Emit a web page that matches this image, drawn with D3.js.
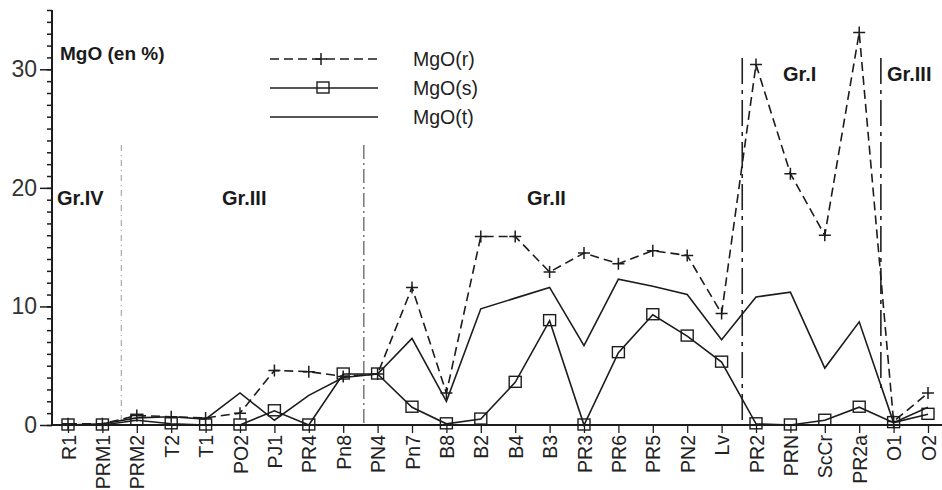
<!DOCTYPE html>
<html>
<head>
<meta charset="utf-8">
<script src="https://cdn.jsdelivr.net/npm/d3@7"></script>
<style>
  body { margin: 0; background: #fff; }
  svg { display: block; font-family: "Liberation Sans", Arial, sans-serif; }
  .grp { font-weight: bold; font-size: 20px; fill: #1a1a1a; }
</style>
</head>
<body>
<div id="chart"></div>
<script>
// samples along the x axis
const samples = ["R1","PRM1","PRM2","T2","T1","PO2","PJ1","PR4","Pn8","PN4","Pn7","B8","B2","B4","B3",
  "PR3","PR6","PR5","PN2","Lv","PR2","PRN","ScCr","PR2a","O1","O2"];

// MgO values (%)
const mgoR = [0.1,0.1,0.8,0.7,0.6,1.0,4.6,4.5,4.1,4.3,11.6,2.7,15.9,15.9,12.9,14.5,13.6,14.7,14.3,9.4,30.4,21.2,16.0,33.1,0.3,2.7];
const mgoS = [0,0,0.4,0.1,0,0,1.2,0,4.3,4.3,1.5,0.1,0.5,3.6,8.8,0,6.1,9.3,7.5,5.3,0.1,0,0.4,1.5,0.2,0.9];
const mgoT = [0,0.1,0.6,0.7,0.5,2.7,0.4,2.5,4.0,4.3,7.3,2.0,9.8,10.7,11.6,6.7,12.3,11.7,11.0,7.2,10.8,11.2,4.8,8.7,0.2,1.5];

const majorTicks = [0,10,20,30];
const minorTicks = d3.range(0, 36, 1);

// group separators: placed after sample, at fraction of a step
const separators = [
  {after: "PRM1", frac: 0.55, kind: "dot"},
  {after: "Pn8", frac: 0.6, kind: "dashdot"},
  {after: "Lv", frac: 0.6, kind: "long"},
  {after: "PR2a", frac: 0.63, kind: "long"}
];
const groups = ["Gr.IV","Gr.III","Gr.II","Gr.I","Gr.III"];
const seriesNames = ["MgO(r)","MgO(s)","MgO(t)"];

const width = 942, height = 490;
const svg = d3.select("#chart").append("svg").attr("width", width).attr("height", height);

const x = d3.scalePoint().domain(samples).range([68, 928]);
const y = d3.scaleLinear().domain([0, 35]).range([425, 10]);
const step = x.step();
const ink = "#1c1c1c";

// y axis: minor + major ticks
svg.append("g").attr("transform", "translate(52,0)")
  .call(d3.axisLeft(y).tickValues(minorTicks).tickSize(5).tickFormat(""))
  .call(g => g.select(".domain").remove())
  .selectAll("line").attr("stroke", ink).attr("stroke-width", 1.5);
const yMaj = svg.append("g").attr("transform", "translate(52,0)")
  .call(d3.axisLeft(y).tickValues(majorTicks).tickSize(12).tickPadding(3).tickFormat(d3.format("d")));
yMaj.select(".domain").remove();
yMaj.selectAll("line").attr("stroke", ink).attr("stroke-width", 1.5);
yMaj.selectAll("text").attr("font-size", 23).attr("fill", "#333").attr("font-family", "Liberation Sans, Arial");
svg.append("line").attr("x1", 52).attr("x2", 52).attr("y1", y(35)).attr("y2", y(0))
  .attr("stroke", ink).attr("stroke-width", 2);

// x axis
const xAx = svg.append("g").attr("transform", `translate(0,${y(0)})`)
  .call(d3.axisBottom(x).tickSize(8).tickSizeOuter(0));
xAx.select(".domain").remove();
xAx.selectAll("line").attr("stroke", ink).attr("stroke-width", 1.3);
xAx.selectAll("text")
  .attr("font-size", 19.5).attr("fill", "#222").attr("font-family", "Liberation Sans, Arial")
  .attr("transform", "rotate(-90)")
  .attr("text-anchor", "end")
  .attr("x", -10).attr("y", 0).attr("dy", "0.36em");
svg.append("line").attr("x1", 52).attr("x2", width).attr("y1", y(0)).attr("y2", y(0))
  .attr("stroke", ink).attr("stroke-width", 2.2);

// separators
const sepStyle = {
  dot: {top: 145, dash: "6,4,1,4", color: "#aaa", w: 1.2},
  dashdot: {top: 145, dash: "14,4,2,4", color: "#555", w: 1.2},
  long: {top: 58, dash: "26,6,4,6", color: "#222", w: 1.6}
};
separators.forEach((s, i) => {
  const st = sepStyle[s.kind];
  const sx = x(s.after) + s.frac * step;
  svg.append("line").attr("x1", sx).attr("x2", sx)
    .attr("y1", st.top).attr("y2", i === 3 ? y(2.8) : y(0))
    .attr("stroke", st.color).attr("stroke-width", st.w).attr("stroke-dasharray", st.dash);
});

// lines
const line = d3.line().x((d, i) => x(samples[i])).y(d => y(d));
svg.append("path").datum(mgoT).attr("d", line).attr("fill", "none").attr("stroke", ink).attr("stroke-width", 1.6);
svg.append("path").datum(mgoS).attr("d", line).attr("fill", "none").attr("stroke", ink).attr("stroke-width", 1.6);
svg.append("path").datum(mgoR).attr("d", line).attr("fill", "none").attr("stroke", ink)
  .attr("stroke-width", 1.6).attr("stroke-dasharray", "9,5");

// markers
function plus(g, cx, cy) {
  g.append("path").attr("d", `M${cx-6},${cy}H${cx+6}M${cx},${cy-6}V${cy+6}`)
    .attr("stroke", ink).attr("stroke-width", 1.5);
}
function square(g, cx, cy) {
  g.append("rect").attr("x", cx-6).attr("y", cy-6).attr("width", 12).attr("height", 11)
    .attr("fill", "none").attr("stroke", ink).attr("stroke-width", 1.4);
}
const mk = svg.append("g");
mgoR.forEach((v, i) => plus(mk, x(samples[i]), y(v)));
mgoS.forEach((v, i) => square(mk, x(samples[i]), y(v)));

// title + groups
svg.append("text").attr("x", 60).attr("y", 60).attr("font-size", 19).attr("font-weight", "bold")
  .attr("fill", "#1a1a1a").text("MgO (en %)");
const grpPos = [[57, 205], [222, 205], [527, 205], [783, 81], [887, 81]];
groups.forEach((g, i) => svg.append("text").attr("class", "grp")
  .attr("x", grpPos[i][0]).attr("y", grpPos[i][1]).text(g));

// legend
const leg = svg.append("g");
seriesNames.forEach((n, i) => {
  const ly = 59 + i * 29;
  const l = leg.append("line").attr("x1", 270).attr("x2", 378).attr("y1", ly).attr("y2", ly)
    .attr("stroke", ink).attr("stroke-width", 1.6);
  if (i === 0) { l.attr("stroke-dasharray", "9,5"); plus(leg, 321, ly); }
  if (i === 1) square(leg, 323, ly);
  leg.append("text").attr("x", 413).attr("y", ly + 7).attr("font-size", 19.5).attr("fill", "#222").text(n);
});
</script>
</body>
</html>
